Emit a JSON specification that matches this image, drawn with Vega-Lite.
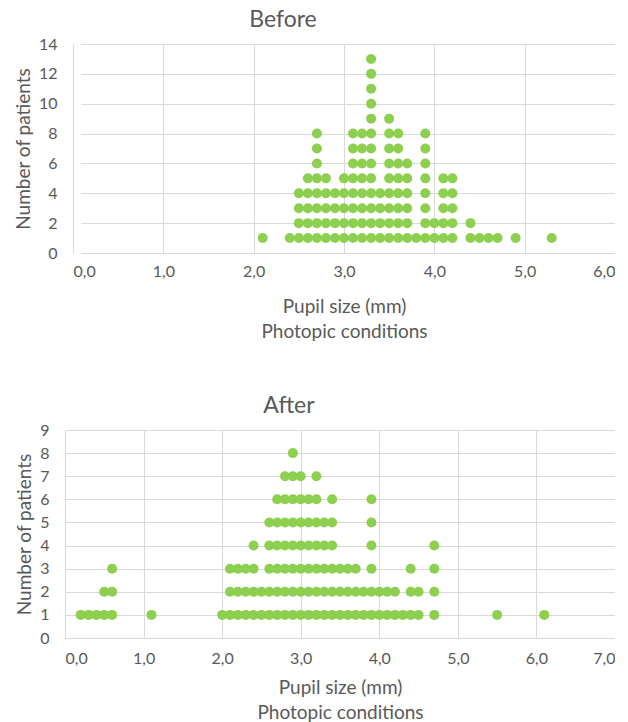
{
  "$schema": "https://vega.github.io/schema/vega-lite/v6.json",
  "background": "white",
  "padding": {"left": 14, "top": 9, "right": 0, "bottom": 0},
  "spacing": 54,
  "columns": 1,
  "config": {
    "font": "Lato",
    "view": {"stroke": null},
    "axis": {
      "labelFont": "Lato", "labelColor": "#595959", "labelFontSize": 16,
      "titleFont": "Lato", "titleColor": "#595959", "titleFontSize": 19, "titleFontWeight": "normal",
      "gridColor": "#d9d9d9", "domain": false, "ticks": false
    },
    "title": {"font": "Lato", "fontSize": 23, "fontWeight": "normal", "color": "#595959"}
  },
  "datasets": {
    "before": [
      {"x":2.1,"n":1},{"x":2.4,"n":1},{"x":2.5,"n":1},{"x":2.6,"n":1},{"x":2.7,"n":1},{"x":2.8,"n":1},{"x":2.9,"n":1},{"x":3.0,"n":1},{"x":3.1,"n":1},{"x":3.2,"n":1},{"x":3.3,"n":1},{"x":3.4,"n":1},{"x":3.5,"n":1},{"x":3.6,"n":1},{"x":3.7,"n":1},{"x":3.8,"n":1},{"x":3.9,"n":1},{"x":4.0,"n":1},{"x":4.1,"n":1},{"x":4.2,"n":1},{"x":4.4,"n":1},{"x":4.5,"n":1},{"x":4.6,"n":1},{"x":4.7,"n":1},{"x":4.9,"n":1},{"x":5.3,"n":1},
      {"x":2.5,"n":2},{"x":2.6,"n":2},{"x":2.7,"n":2},{"x":2.8,"n":2},{"x":2.9,"n":2},{"x":3.0,"n":2},{"x":3.1,"n":2},{"x":3.2,"n":2},{"x":3.3,"n":2},{"x":3.4,"n":2},{"x":3.5,"n":2},{"x":3.6,"n":2},{"x":3.7,"n":2},{"x":3.9,"n":2},{"x":4.0,"n":2},{"x":4.1,"n":2},{"x":4.2,"n":2},{"x":4.4,"n":2},
      {"x":2.5,"n":3},{"x":2.6,"n":3},{"x":2.7,"n":3},{"x":2.8,"n":3},{"x":2.9,"n":3},{"x":3.0,"n":3},{"x":3.1,"n":3},{"x":3.2,"n":3},{"x":3.3,"n":3},{"x":3.4,"n":3},{"x":3.5,"n":3},{"x":3.6,"n":3},{"x":3.7,"n":3},{"x":3.9,"n":3},{"x":4.1,"n":3},{"x":4.2,"n":3},
      {"x":2.5,"n":4},{"x":2.6,"n":4},{"x":2.7,"n":4},{"x":2.8,"n":4},{"x":2.9,"n":4},{"x":3.0,"n":4},{"x":3.1,"n":4},{"x":3.2,"n":4},{"x":3.3,"n":4},{"x":3.4,"n":4},{"x":3.5,"n":4},{"x":3.6,"n":4},{"x":3.7,"n":4},{"x":3.9,"n":4},{"x":4.1,"n":4},{"x":4.2,"n":4},
      {"x":2.6,"n":5},{"x":2.7,"n":5},{"x":2.8,"n":5},{"x":3.0,"n":5},{"x":3.1,"n":5},{"x":3.2,"n":5},{"x":3.3,"n":5},{"x":3.5,"n":5},{"x":3.6,"n":5},{"x":3.7,"n":5},{"x":3.9,"n":5},{"x":4.1,"n":5},{"x":4.2,"n":5},
      {"x":2.7,"n":6},{"x":3.1,"n":6},{"x":3.2,"n":6},{"x":3.3,"n":6},{"x":3.5,"n":6},{"x":3.6,"n":6},{"x":3.7,"n":6},{"x":3.9,"n":6},
      {"x":2.7,"n":7},{"x":3.1,"n":7},{"x":3.2,"n":7},{"x":3.3,"n":7},{"x":3.5,"n":7},{"x":3.6,"n":7},{"x":3.9,"n":7},
      {"x":2.7,"n":8},{"x":3.1,"n":8},{"x":3.2,"n":8},{"x":3.3,"n":8},{"x":3.5,"n":8},{"x":3.6,"n":8},{"x":3.9,"n":8},
      {"x":3.3,"n":9},{"x":3.5,"n":9},
      {"x":3.3,"n":10},{"x":3.3,"n":11},{"x":3.3,"n":12},{"x":3.3,"n":13}
    ],
    "after": [
      {"x":0.2,"n":1},{"x":0.3,"n":1},{"x":0.4,"n":1},{"x":0.5,"n":1},{"x":0.6,"n":1},{"x":1.1,"n":1},
      {"x":2.0,"n":1},{"x":2.1,"n":1},{"x":2.2,"n":1},{"x":2.3,"n":1},{"x":2.4,"n":1},{"x":2.5,"n":1},{"x":2.6,"n":1},{"x":2.7,"n":1},{"x":2.8,"n":1},{"x":2.9,"n":1},{"x":3.0,"n":1},{"x":3.1,"n":1},{"x":3.2,"n":1},{"x":3.3,"n":1},{"x":3.4,"n":1},{"x":3.5,"n":1},{"x":3.6,"n":1},{"x":3.7,"n":1},{"x":3.8,"n":1},{"x":3.9,"n":1},{"x":4.0,"n":1},{"x":4.1,"n":1},{"x":4.2,"n":1},{"x":4.3,"n":1},{"x":4.4,"n":1},{"x":4.5,"n":1},{"x":4.7,"n":1},{"x":5.5,"n":1},{"x":6.1,"n":1},
      {"x":0.5,"n":2},{"x":0.6,"n":2},
      {"x":2.1,"n":2},{"x":2.2,"n":2},{"x":2.3,"n":2},{"x":2.4,"n":2},{"x":2.5,"n":2},{"x":2.6,"n":2},{"x":2.7,"n":2},{"x":2.8,"n":2},{"x":2.9,"n":2},{"x":3.0,"n":2},{"x":3.1,"n":2},{"x":3.2,"n":2},{"x":3.3,"n":2},{"x":3.4,"n":2},{"x":3.5,"n":2},{"x":3.6,"n":2},{"x":3.7,"n":2},{"x":3.8,"n":2},{"x":3.9,"n":2},{"x":4.0,"n":2},{"x":4.1,"n":2},{"x":4.2,"n":2},{"x":4.4,"n":2},{"x":4.5,"n":2},{"x":4.7,"n":2},
      {"x":0.6,"n":3},{"x":2.1,"n":3},{"x":2.2,"n":3},{"x":2.3,"n":3},{"x":2.4,"n":3},
      {"x":2.6,"n":3},{"x":2.7,"n":3},{"x":2.8,"n":3},{"x":2.9,"n":3},{"x":3.0,"n":3},{"x":3.1,"n":3},{"x":3.2,"n":3},{"x":3.3,"n":3},{"x":3.4,"n":3},{"x":3.5,"n":3},{"x":3.6,"n":3},{"x":3.7,"n":3},{"x":3.9,"n":3},{"x":4.4,"n":3},{"x":4.7,"n":3},
      {"x":2.4,"n":4},{"x":2.6,"n":4},{"x":2.7,"n":4},{"x":2.8,"n":4},{"x":2.9,"n":4},{"x":3.0,"n":4},{"x":3.1,"n":4},{"x":3.2,"n":4},{"x":3.3,"n":4},{"x":3.4,"n":4},{"x":3.9,"n":4},{"x":4.7,"n":4},
      {"x":2.6,"n":5},{"x":2.7,"n":5},{"x":2.8,"n":5},{"x":2.9,"n":5},{"x":3.0,"n":5},{"x":3.1,"n":5},{"x":3.2,"n":5},{"x":3.3,"n":5},{"x":3.4,"n":5},{"x":3.9,"n":5},
      {"x":2.7,"n":6},{"x":2.8,"n":6},{"x":2.9,"n":6},{"x":3.0,"n":6},{"x":3.1,"n":6},{"x":3.2,"n":6},{"x":3.4,"n":6},{"x":3.9,"n":6},
      {"x":2.8,"n":7},{"x":2.9,"n":7},{"x":3.0,"n":7},{"x":3.2,"n":7},
      {"x":2.9,"n":8}
    ]
  },
  "concat": [
    {
      "title": {"text": "Before", "anchor": "middle", "frame": "group", "dx": -57, "offset": 4},
      "width": 550,
      "height": 209,
      "data": {"name": "before"},
      "mark": {"type": "circle", "size": 100, "opacity": 1, "color": "#8dcf4f"},
      "encoding": {
        "x": {"field": "x", "type": "quantitative", "scale": {"domain": [0, 6], "nice": false, "range": [8, 550]},
          "axis": {"values": [0,1,2,3,4,5,6], "labelExpr": "replace(format(datum.value, '.1f'), '.', ',')", "labelPadding": 10,
            "title": ["Pupil size (mm)", "Photopic conditions"], "titlePadding": 18, "titleLineHeight": 25}},
        "y": {"field": "n", "type": "quantitative", "scale": {"domain": [0, 14], "nice": false},
          "axis": {"values": [0,2,4,6,8,10,12,14], "labelPadding": 8, "gridDash": [0, 8, 542, 0], "title": "Number of patients", "titlePadding": 5}}
      }
    },
    {
      "title": {"text": "After", "anchor": "middle", "frame": "group", "dx": -51, "offset": 4},
      "width": 550,
      "height": 208,
      "data": {"name": "after"},
      "mark": {"type": "circle", "size": 100, "opacity": 1, "color": "#8dcf4f"},
      "encoding": {
        "x": {"field": "x", "type": "quantitative", "scale": {"domain": [0, 7], "nice": false},
          "axis": {"values": [0,1,2,3,4,5,6,7], "labelExpr": "replace(format(datum.value, '.1f'), '.', ',')", "labelPadding": 12,
            "title": ["Pupil size (mm)", "Photopic conditions"], "titlePadding": 12, "titleLineHeight": 25}},
        "y": {"field": "n", "type": "quantitative", "scale": {"domain": [0, 9], "nice": false},
          "axis": {"values": [0,1,2,3,4,5,6,7,8,9], "labelPadding": 16, "title": "Number of patients", "titlePadding": 5}}
      }
    }
  ]
}
